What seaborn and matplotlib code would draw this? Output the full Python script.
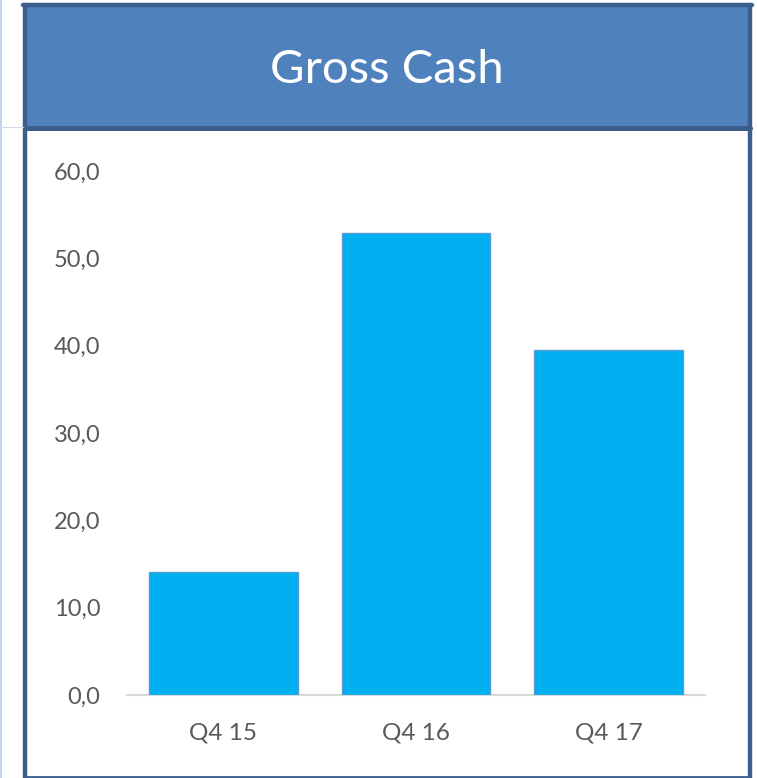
# Gross Cash bar chart, recreated with seaborn
import numpy as np
import pandas as pd
import seaborn as sns
import matplotlib.pyplot as plt
from matplotlib.patches import Rectangle
from matplotlib.lines import Line2D

# data
quarters = ['Q4 15', 'Q4 16', 'Q4 17']
gross_cash = [14.1, 52.9, 39.5]
yticks = [0, 10, 20, 30, 40, 50, 60]
ytick_labels = ['0,0', '10,0', '20,0', '30,0', '40,0', '50,0', '60,0']

df = pd.DataFrame({'quarter': quarters, 'cash': gross_cash})

sns.set_theme(style='white')
plt.rcParams['font.family'] = ['Lato', 'DejaVu Sans']

W, H = 757, 778
fig = plt.figure(figsize=(W / 100, H / 100), dpi=100)
fig.patch.set_facecolor('white')

# panel: header band + border
border = '#3B5E8C'
fig.patches.append(Rectangle((25 / W, 1 - 127 / H), 725 / W, 122 / H,
                             transform=fig.transFigure, facecolor='#4F81BD',
                             edgecolor='none', zorder=0))
fig.add_artist(Line2D([25 / W, 25 / W], [0, 1 - 5 / H], transform=fig.transFigure,
                      color=border, lw=3.2))
fig.add_artist(Line2D([750 / W, 750 / W], [0, 1 - 5 / H], transform=fig.transFigure,
                      color=border, lw=3.2))
fig.add_artist(Line2D([23 / W, 752 / W], [1 - 5 / H, 1 - 5 / H], transform=fig.transFigure,
                      color=border, lw=3.2))
fig.add_artist(Line2D([25 / W, 750 / W], [1 - 127.5 / H, 1 - 127.5 / H], transform=fig.transFigure,
                      color=border, lw=3.6))
fig.add_artist(Line2D([25 / W, 750 / W], [1.2 / H, 1.2 / H], transform=fig.transFigure,
                      color=border, lw=2))
# faint line at the far left edge
fig.add_artist(Line2D([1 / W, 1 / W], [0, 1], transform=fig.transFigure,
                      color='#B8CCE4', lw=1.2))
fig.add_artist(Line2D([0, 23 / W], [1 - 127 / H, 1 - 127 / H], transform=fig.transFigure,
                      color='#D0DCEB', lw=0.8))

fig.text(387 / W, 1 - 70 / H, 'Gross Cash', color='white', fontsize=34,
         ha='center', va='center')

ax = fig.add_axes([127 / W, (H - 695) / H, 578 / W, 524 / H])
sns.barplot(data=df, x='quarter', y='cash', color='#00B0F0', saturation=1,
            width=0.772, edgecolor='#5B9BD5', linewidth=1, ax=ax, zorder=3)

ax.set_xlim(-0.5, 2.5)
ax.set_ylim(0, 60)
ax.set_yticks(yticks)
ax.set_yticklabels(ytick_labels)
ax.set(xlabel='', ylabel='')
ax.tick_params(axis='y', length=0, pad=19, labelsize=17, labelcolor='#595959')
ax.tick_params(axis='x', length=0, pad=20, labelsize=17.5, labelcolor='#595959')
for s in ['top', 'right', 'left']:
    ax.spines[s].set_visible(False)
ax.spines['bottom'].set_color('#D9D9D9')
ax.spines['bottom'].set_linewidth(1.5)
ax.set_facecolor('white')

fig.savefig('out.png', dpi=100)
